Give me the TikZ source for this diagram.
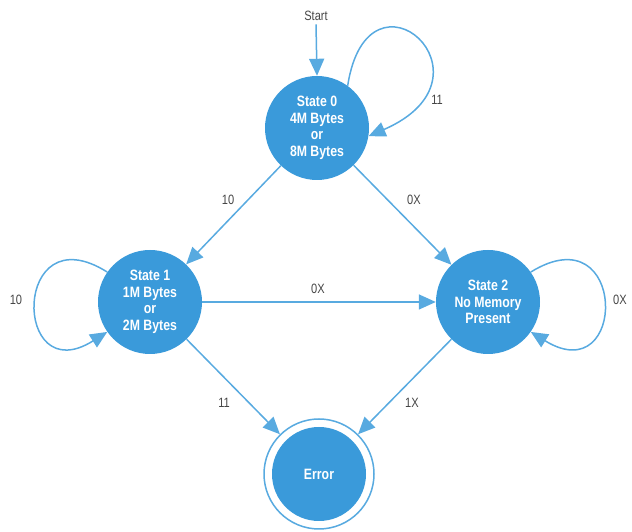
\documentclass[tikz,border=0pt]{standalone}
\usepackage{fontspec}
\setmainfont{Liberation Sans}[FakeStretch=0.82]
\usetikzlibrary{arrows.meta}
\definecolor{stfill}{RGB}{58,154,218}
\definecolor{edgec}{RGB}{88,170,224}
\definecolor{lblc}{RGB}{70,70,70}
\begin{document}
\begin{tikzpicture}[x=1pt,y=1pt,
  state/.style={circle,fill=stfill,text=white,minimum size=104pt,inner sep=0pt,align=center,
    font=\bfseries\fontsize{15}{16.5}\selectfont},
  conn/.style={draw=edgec,line width=1.5pt,-{Triangle[length=17pt,width=15pt]}},
  lbl/.style={text=lblc,font=\fontsize{13.5}{15}\selectfont}]
\useasboundingbox (0,0) rectangle (632,532);
\node[state] (s0) at (317,404) {State 0\\4M Bytes\\or\\8M Bytes};
\node[state] (s1) at (150,230) {State 1\\1M Bytes\\or\\2M Bytes};
\node[state] (s2) at (488,230) {State 2\\No Memory\\Present};
\node[circle,draw=edgec,line width=1.5pt,fill=white,minimum size=110pt,inner sep=0pt] (er) at (319,58) {};
\node[state,minimum size=94pt] (erin) at (er) {Error};
\node[lbl] (start) at (316,516) {Start};
\draw[conn] (start.south) -- (s0.north);
\draw[conn] (s0.54) .. controls (368,578) and (505,455) .. (s0.-9);
\draw[conn] (s1.145) .. controls (12,320) and (12,140) .. (s1.215);
\draw[conn] (s2.35) .. controls (628,320) and (628,140) .. (s2.-35);
\draw[conn] (s0) -- (s1);
\draw[conn] (s0) -- (s2);
\draw[conn] (s1) -- (s2);
\draw[conn] (s1) -- (er);
\draw[conn] (s2) -- (er);
\node[lbl] (l1) at (437,432) {11};
\node[lbl] (l2) at (228,332) {10};
\node[lbl] (l3) at (414,332) {0X};
\node[lbl] (l4) at (318,243) {0X};
\node[lbl] (l5) at (16,232) {10};
\node[lbl] (l6) at (620,232) {0X};
\node[lbl] (l7) at (224,129) {11};
\node[lbl] (l8) at (412,129) {1X};
\end{tikzpicture}
\end{document}
